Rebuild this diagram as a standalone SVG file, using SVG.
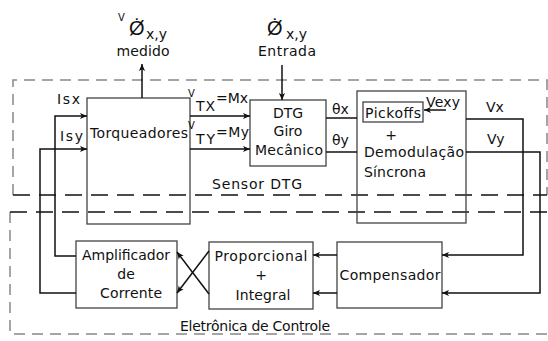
<svg xmlns="http://www.w3.org/2000/svg" width="548" height="341" viewBox="0 0 548 341">
<style>
text{font-family:"DejaVu Sans","Liberation Sans",Arial,sans-serif;font-size:14px;fill:#111}
.c{text-anchor:middle}
.box{fill:none;stroke:#444;stroke-width:1.3}
.ln{fill:none;stroke:#111;stroke-width:1.5}
.gd{fill:none;stroke:#888;stroke-width:1.5;stroke-dasharray:11 7}
.bd{fill:none;stroke:#111;stroke-width:1.5;stroke-dasharray:17 9}
.sm{font-size:10px}
.big{font-size:20px;font-family:"Liberation Sans",Arial,sans-serif}
</style>
<defs>
<marker id="a" viewBox="0 0 8 8" refX="8" refY="4" markerWidth="7" markerHeight="7" orient="auto" markerUnits="userSpaceOnUse">
<path d="M0,0.5 L8,4 L0,7.5 L2,4 Z" fill="#111"/>
</marker>
</defs>
<rect width="548" height="341" fill="#fff"/>
<g id="frames">
<path class="gd" d="M13,195 V80 H547 V195"/>
<path class="bd" d="M13,195 H547"/>
<path class="gd" d="M10,212 V334 H548"/>
<path class="bd" d="M10,212 H548"/>
<text x="257" y="189" class="c" textLength="90">Sensor DTG</text>
<text x="255" y="331" class="c" textLength="150">Eletrônica de Controle</text>
</g>
<g id="labels-top">
<text x="118" y="21" class="sm">V</text>
<text x="129" y="35" class="big">Ø̇</text>
<text x="146" y="39">x,y</text>
<text x="143" y="56" class="c" textLength="53">medido</text>
<text x="267" y="35" class="big">Ø̇</text>
<text x="286" y="39">x,y</text>
<text x="287" y="56" class="c" textLength="58">Entrada</text>
</g>
<g id="torqueadores">
<rect class="box" x="87" y="98" width="103" height="126"/>
<text x="139" y="138" class="c" textLength="98">Torqueadores</text>
</g>
<g id="dtg">
<rect class="box" x="250" y="100" width="76" height="66"/>
<text x="288" y="118" class="c">DTG</text>
<text x="288" y="136" class="c">Giro</text>
<text x="289" y="155" class="c" textLength="68">Mecânico</text>
</g>
<g id="demod">
<rect class="box" x="357" y="91" width="109" height="132" stroke="#666"/>
<rect class="box" x="363" y="102" width="60" height="20" stroke="#222"/>
<text x="393" y="118" class="c" textLength="56">Pickoffs</text>
<text x="443" y="107" class="c" textLength="34">Vexy</text>
<text x="391" y="140" class="c">+</text>
<text x="414" y="157" class="c" textLength="100">Demodulação</text>
<text x="364" y="177" textLength="62">Síncrona</text>
</g>
<g id="compensador">
<rect class="box" x="337" y="242" width="105" height="66" stroke="#555"/>
<text x="390" y="280" class="c" textLength="101">Compensador</text>
</g>
<g id="pi">
<rect class="box" x="209" y="242" width="104" height="67" stroke="#555"/>
<text x="261" y="261" class="c" textLength="93">Proporcional</text>
<text x="261" y="280" class="c">+</text>
<text x="263" y="300" class="c" textLength="55">Integral</text>
</g>
<g id="amplificador">
<rect class="box" x="76" y="241" width="101" height="67" stroke="#111"/>
<text x="126" y="260" class="c" textLength="88">Amplificador</text>
<text x="126" y="279" class="c">de</text>
<text x="131" y="298" class="c" textLength="62">Corrente</text>
</g>
<g id="connectors">
<path class="ln" d="M142,98 V64" marker-end="url(#a)"/>
<path class="ln" d="M282,65 V100" marker-end="url(#a)"/>
<path class="ln" d="M190,116 H250" marker-end="url(#a)"/>
<path class="ln" d="M190,149 H250" marker-end="url(#a)"/>
<path class="ln" d="M326,118 H357"/>
<path class="ln" d="M326,152 H357"/>
<path class="ln" d="M446,110 H424" marker-end="url(#a)"/>
<path class="ln" d="M466,119 H523 V255 H442" marker-end="url(#a)"/>
<path class="ln" d="M466,152 H540 V293 H442" marker-end="url(#a)"/>
<path class="ln" d="M337,255 H313" marker-end="url(#a)"/>
<path class="ln" d="M337,293 H313" marker-end="url(#a)"/>
<path class="ln" d="M209,251 L177,293" marker-end="url(#a)"/>
<path class="ln" d="M209,294 L177,252" marker-end="url(#a)"/>
<path class="ln" d="M76,256 H55 V116 H87" marker-end="url(#a)"/>
<path class="ln" d="M76,293 H40 V149 H87" marker-end="url(#a)"/>
</g>
<g id="connector-labels">
<text x="57" y="104" textLength="23">Isx</text>
<text x="60" y="141" textLength="23">Isy</text>
<text x="188" y="97" class="sm">V</text>
<text x="196" y="111" textLength="19">TX</text>
<text x="216" y="103" textLength="32">=Mx</text>
<text x="188" y="129" class="sm">V</text>
<text x="196" y="144" textLength="19">TY</text>
<text x="216" y="137" textLength="33">=My</text>
<text x="332" y="114">θx</text>
<text x="332" y="145">θy</text>
<text x="486" y="112">Vx</text>
<text x="487" y="144">Vy</text>
</g>
</svg>
